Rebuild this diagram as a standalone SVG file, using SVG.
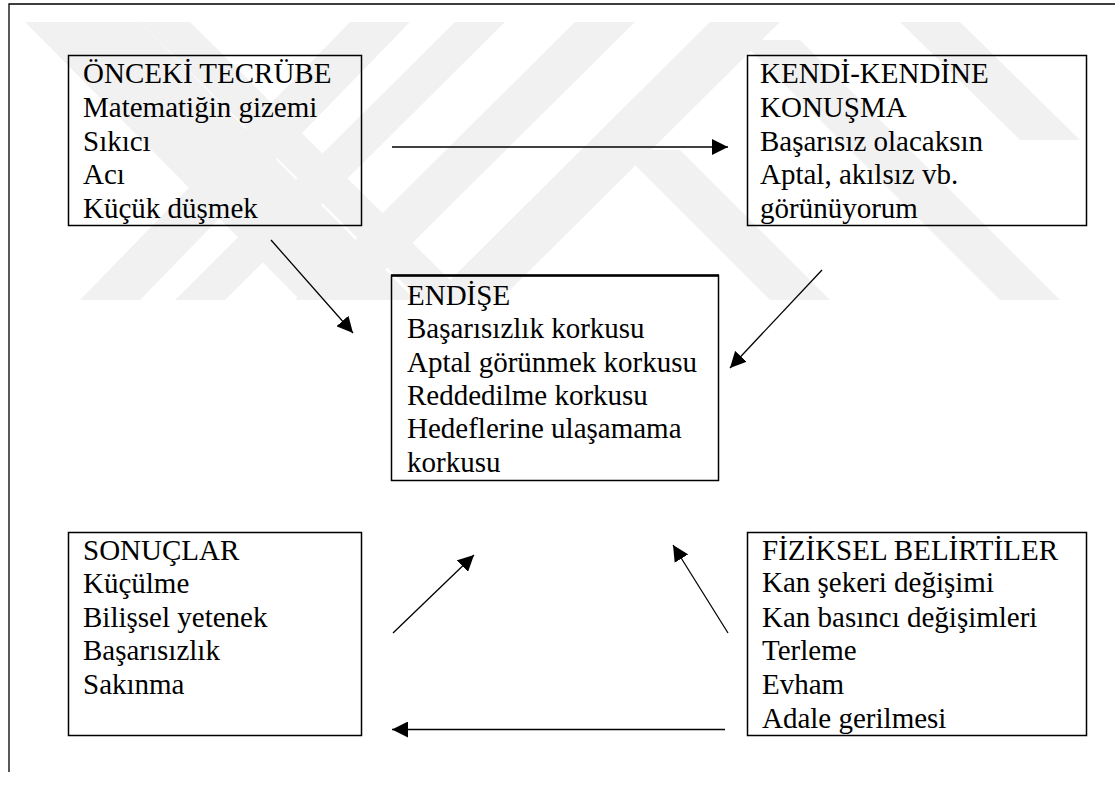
<svg xmlns="http://www.w3.org/2000/svg" width="1115" height="787" viewBox="0 0 1115 787">
<style>
.wm{fill:#f1f1f1;}
.box{fill:none;stroke:#000;stroke-width:1.5;}
.t{font-family:'Liberation Serif','Times New Roman',serif;font-size:29px;fill:#000;}
.c{stroke:#000;stroke-width:1.3;fill:none;}
.frame{stroke:#000;stroke-width:1.3;fill:none;}
</style>
<defs>
<marker id="ah" viewBox="0 0 16 16" refX="16" refY="8" markerWidth="16" markerHeight="16" markerUnits="userSpaceOnUse" orient="auto">
<path d="M0,0 L16,8 L0,16 Z" fill="#000"/>
</marker>
</defs>
<rect width="1115" height="787" fill="#fff"/>
<g id="watermark">
<polygon class="wm" points="25,22 140,22 415,300 300,300"/>
<polygon class="wm" points="140,22 190,22 470,300 420,300"/>
<polygon class="wm" points="350,22 410,22 140,300 80,300"/>
<polygon class="wm" points="455,22 505,22 225,300 175,300"/>
<polygon class="wm" points="575,22 635,22 355,300 295,300"/>
<polygon class="wm" points="710,22 780,22 500,300 430,300"/>
<polygon class="wm" points="740,40 800,40 1060,300 1000,300"/>
<polygon class="wm" points="620,150 680,150 830,300 770,300"/>
<polygon class="wm" points="900,22 960,22 1080,140 1020,140"/>
</g>
<g id="frame">
<polyline class="frame" points="9,772 9,4 1115,4"/>
</g>
<g id="connectors">
<line class="c" x1="392" y1="147" x2="728" y2="147" marker-end="url(#ah)"/>
<line class="c" x1="271" y1="240" x2="353" y2="333" marker-end="url(#ah)"/>
<line class="c" x1="822" y1="270" x2="730" y2="368" marker-end="url(#ah)"/>
<line class="c" x1="393" y1="633" x2="474" y2="555" marker-end="url(#ah)"/>
<line class="c" x1="728" y1="633" x2="673" y2="545" marker-end="url(#ah)"/>
<line class="c" x1="725" y1="729.5" x2="392" y2="729.5" marker-end="url(#ah)"/>
</g>
<g id="onceki">
<rect class="box" x="68.5" y="55.5" width="293" height="170"/>
<text class="t" x="83" y="83">ÖNCEKİ TECRÜBE</text>
<text class="t" x="83" y="117">Matematiğin gizemi</text>
<text class="t" x="83" y="151">Sıkıcı</text>
<text class="t" x="83" y="184">Acı</text>
<text class="t" x="83" y="218">Küçük düşmek</text>
</g>
<g id="kendi">
<rect class="box" x="747.5" y="55.5" width="339" height="170"/>
<text class="t" x="760" y="83">KENDİ-KENDİNE</text>
<text class="t" x="760" y="117">KONUŞMA</text>
<text class="t" x="760" y="151">Başarısız olacaksın</text>
<text class="t" x="760" y="184">Aptal, akılsız vb.</text>
<text class="t" x="760" y="218">görünüyorum</text>
</g>
<g id="endise">
<rect class="box" x="391.5" y="275.5" width="327" height="205"/>
<line x1="391" y1="275.5" x2="719" y2="275.5" stroke="#000" stroke-width="2.5"/>
<text class="t" x="407" y="305">ENDİŞE</text>
<text class="t" x="407" y="338">Başarısızlık korkusu</text>
<text class="t" x="407" y="371.5">Aptal görünmek korkusu</text>
<text class="t" x="407" y="405">Reddedilme korkusu</text>
<text class="t" x="407" y="438">Hedeflerine ulaşamama</text>
<text class="t" x="407" y="471.5">korkusu</text>
</g>
<g id="sonuclar">
<rect class="box" x="68.5" y="532.5" width="293" height="203"/>
<text class="t" x="83" y="560">SONUÇLAR</text>
<text class="t" x="83" y="593">Küçülme</text>
<text class="t" x="83" y="627">Bilişsel yetenek</text>
<text class="t" x="83" y="660">Başarısızlık</text>
<text class="t" x="83" y="693.5">Sakınma</text>
</g>
<g id="fiziksel">
<rect class="box" x="747.5" y="532.5" width="339" height="203"/>
<text class="t" x="762" y="560">FİZİKSEL BELİRTİLER</text>
<text class="t" x="762" y="592">Kan şekeri değişimi</text>
<text class="t" x="762" y="627">Kan basıncı değişimleri</text>
<text class="t" x="762" y="660">Terleme</text>
<text class="t" x="762" y="693.5">Evham</text>
<text class="t" x="762" y="728">Adale gerilmesi</text>
</g>
</svg>
